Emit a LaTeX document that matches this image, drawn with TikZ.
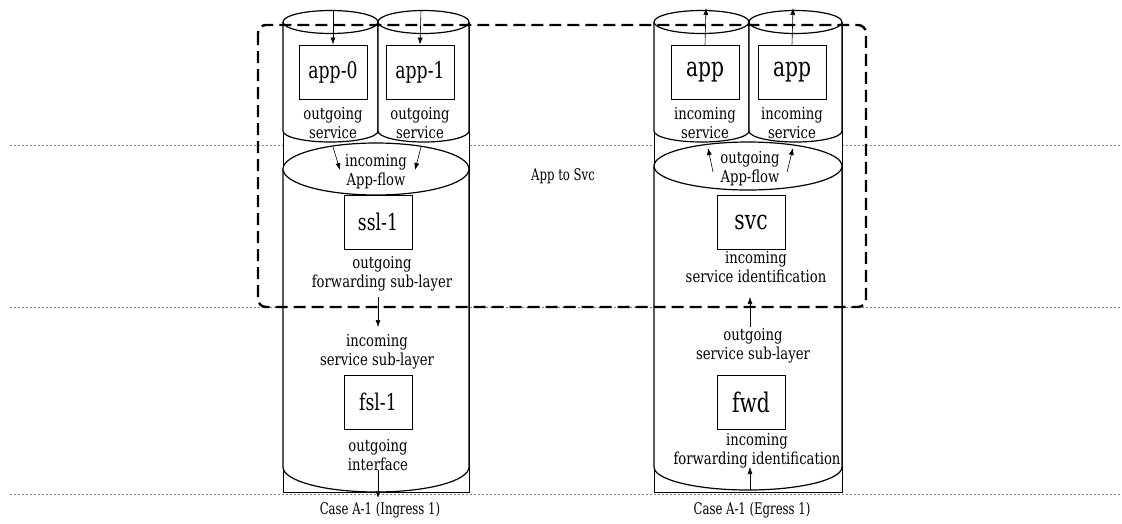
\documentclass[tikz,border=0pt]{standalone}
\usepackage{fontspec}
\setmainfont[FakeStretch=0.8]{DejaVu Serif}
\newfontfamily\capfont[FakeStretch=0.73]{DejaVu Serif}
\newfontfamily\boxfont[FakeStretch=0.75]{DejaVu Serif}
\usetikzlibrary{arrows.meta}
\begin{document}
\begin{tikzpicture}[x=1pt,y=-1pt,
  cyl/.style={line width=1.2pt,fill=white},
  box/.style={draw,line width=0.9pt,fill=white,minimum width=68pt,minimum height=54pt,inner sep=0pt,font=\boxfont\fontsize{23}{26}\selectfont},
  bigbox/.style={box,font=\boxfont\fontsize{27}{30}\selectfont},
  lbl/.style={align=center,font=\fontsize{16.5}{19}\selectfont,inner sep=0pt},
  capt/.style={font=\capfont\fontsize{16}{18}\selectfont,inner sep=0pt},
  arr/.style={-{Latex[length=7pt,width=5pt]},line width=0.6pt},
  sep/.style={gray,line width=1pt,dash pattern=on 2pt off 2pt},
  grp/.style={line width=2.4pt,dash pattern=on 12pt off 6pt,rounded corners=8pt}
]
\useasboundingbox (0,0) rectangle (1122,523);
% separators
\draw[sep] (10,145) -- (1122,145);
\draw[sep] (10,307) -- (1122,307);
\draw[sep] (10,494) -- (1122,494);

% ---------- left stack ----------
\fill[white] (283,23) rectangle (469,492);
\draw[line width=0.8pt] (283,23) -- (283,492) -- (469,492) -- (469,23);
\draw[cyl] (283,169) -- (283,467) arc[start angle=180,end angle=360,x radius=93pt,y radius=25pt] -- (469,169);
\draw[cyl] (376,169) ellipse [x radius=93pt,y radius=26pt];
\draw[cyl] (283,22) -- (283,131) arc[start angle=180,end angle=360,x radius=47.5pt,y radius=11pt] -- (378,22);
\draw[cyl] (330.5,22) ellipse [x radius=47.5pt,y radius=11.5pt];
\draw[cyl] (378,22) -- (378,131) arc[start angle=180,end angle=360,x radius=45.5pt,y radius=11pt] -- (469,22);
\draw[cyl] (423.5,22) ellipse [x radius=45.5pt,y radius=11.5pt];

\node[box] (a0) at (333,72) {app-0};
\node[box] (a1) at (420,72) {app-1};
\node[lbl] (a0l) at (333,123) {outgoing\\service};
\node[lbl] (a1l) at (420,123) {outgoing\\service};
\node[lbl] (afl) at (376,172) {incoming\\App-flow};
\node[box] (ssl) at (378,222) {ssl-1};
\node[lbl] (ssll) at (382,274) {outgoing\\forwarding sub-layer};
\node[lbl] (fsll) at (377,352) {incoming\\service sub-layer};
\node[box] (fsl) at (378,402) {fsl-1};
\node[lbl] (fslo) at (378,455) {outgoing\\interface};
\node[capt] (capL) at (380,510) {Case A-1 (Ingress 1)};

\coordinate (t0) at (333,10);
\coordinate (t1) at (421,10);
\draw[arr] (t0) -- (a0.north);
\draw[arr] (t1) -- (a1.north);
\coordinate (f0s) at (333,147);
\coordinate (f0e) at (340,170);
\coordinate (f1s) at (421,147);
\coordinate (f1e) at (415,170);
\draw[arr] (f0s) -- (f0e);
\draw[arr] (f1s) -- (f1e);
\coordinate (m0s) at (378,297);
\coordinate (m0e) at (378,327);
\draw[arr] (m0s) -- (m0e);
\coordinate (b0s) at (378,470);
\coordinate (b0e) at (378,498);
\draw[arr] (b0s) -- (b0e);

% ---------- right stack ----------
\fill[white] (654,23) rectangle (842,492);
\draw[line width=0.8pt] (654,23) -- (654,492) -- (842,492) -- (842,23);
\draw[cyl] (654,166) -- (654,467) arc[start angle=180,end angle=360,x radius=94pt,y radius=23pt] -- (842,166);
\draw[cyl] (748,166) ellipse [x radius=94pt,y radius=24pt];
\draw[cyl] (654,22) -- (654,131) arc[start angle=180,end angle=360,x radius=47.5pt,y radius=11pt] -- (749,22);
\draw[cyl] (701.5,22) ellipse [x radius=47.5pt,y radius=11.5pt];
\draw[cyl] (749,22) -- (749,131) arc[start angle=180,end angle=360,x radius=46.5pt,y radius=11pt] -- (842,22);
\draw[cyl] (795.5,22) ellipse [x radius=46.5pt,y radius=11.5pt];

\node[bigbox] (r0) at (705,72) {app};
\node[bigbox] (r1) at (792,72) {app};
\node[lbl] (r0l) at (705,123) {incoming\\service};
\node[lbl] (r1l) at (792,123) {incoming\\service};
\node[lbl] (rfl) at (750,169) {outgoing\\App-flow};
\node[bigbox] (svc) at (751,222) {svc};
\node[lbl] (svcl) at (756,267) {incoming\\service identification};
\node[lbl] (fwdl) at (753,346) {outgoing\\service sub-layer};
\node[bigbox] (fwd) at (751,402) {fwd};
\node[lbl] (fwdi) at (757,451) {incoming\\forwarding identification};
\node[capt] (capR) at (752,510) {Case A-1 (Egress 1)};

\coordinate (u0) at (706,8);
\coordinate (u1) at (793,8);
\draw[arr] (r0.north) -- (u0);
\draw[arr] (r1.north) -- (u1);
\coordinate (g0s) at (713,172);
\coordinate (g0e) at (708,148);
\coordinate (g1s) at (787,172);
\coordinate (g1e) at (793,148);
\draw[arr] (g0s) -- (g0e);
\draw[arr] (g1s) -- (g1e);
\coordinate (n0s) at (750,327);
\coordinate (n0e) at (750,297);
\draw[arr] (n0s) -- (n0e);
\coordinate (c0s) at (750,490);
\coordinate (c0e) at (750,467);
\draw[arr] (c0s) -- (c0e);

\node[capt] (mid) at (563,176) {App to Svc};

% group
\draw[grp] (258,25) rectangle (866,307);
\end{tikzpicture}
\end{document}
